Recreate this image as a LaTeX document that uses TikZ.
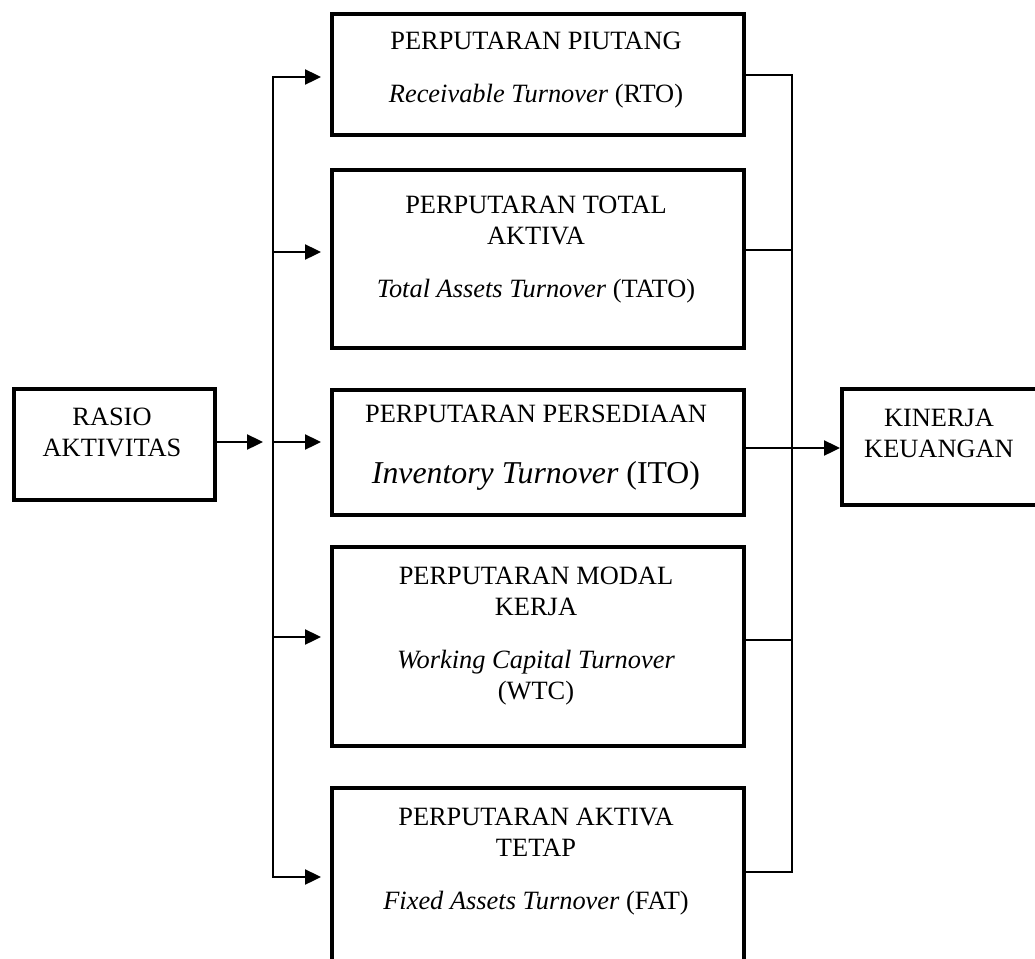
\documentclass[tikz,border=0pt]{standalone}
\usepackage{fontspec}
\setmainfont{Liberation Serif}
\usetikzlibrary{arrows.meta}

\tikzset{
  box/.style={draw, line width=2pt, inner sep=0pt, anchor=north west},
  txt/.style={anchor=north, align=center, inner sep=0pt, font=\fontsize{13.2}{15.5}\selectfont},
  conn/.style={line width=1.2pt},
  arr/.style={conn, -{Triangle[length=8pt,width=7.5pt]}},
}

\begin{document}
\begin{tikzpicture}[x=0.5pt, y=-0.5pt]
    \useasboundingbox (0,0) rectangle (1035,959);
    % boxes
    \node[box, minimum width=100.5pt, minimum height=55.5pt] (rasio) at (12,387) {};
    \node[box, minimum width=206pt, minimum height=60.5pt] (rto) at (330,12) {};
    \node[box, minimum width=206pt, minimum height=89pt] (tato) at (330,168) {};
    \node[box, minimum width=206pt, minimum height=62.5pt] (ito) at (330,388) {};
    \node[box, minimum width=206pt, minimum height=99.5pt] (wtc) at (330,545) {};
    \node[box, minimum width=206pt, minimum height=97pt] (fat) at (330,786) {};
    \node[box, minimum width=99pt, minimum height=58pt] (kinerja) at (840,387) {};
    % texts
    \node[txt] (rasio-txt) at (112,408) {RASIO\\AKTIVITAS};
    \node[txt] (rto-txt) at (536,32) {PERPUTARAN PIUTANG\\[11pt]\textit{Receivable Turnover} (RTO)};
    \node[txt] (tato-txt) at (536,196) {PERPUTARAN TOTAL\\AKTIVA\\[11pt]\textit{Total Assets Turnover} (TATO)};
    \node[txt] (ito-txt) at (536,405) {PERPUTARAN PERSEDIAAN\\[15pt]{\fontsize{15.9}{19}\selectfont\textit{Inventory Turnover} (ITO)}};
    \node[txt] (wtc-txt) at (536,567) {PERPUTARAN MODAL\\KERJA\\[11pt]\textit{Working Capital Turnover}\\(WTC)};
    \node[txt] (fat-txt) at (536,808) {PERPUTARAN AKTIVA\\TETAP\\[11pt]\textit{Fixed Assets Turnover} (FAT)};
    \node[txt] (kinerja-txt) at (939,409) {KINERJA\\KEUANGAN};
    % bus points
    \coordinate (lb1) at (273,77);
    \coordinate (lb2) at (273,252);
    \coordinate (lb3) at (273,442);
    \coordinate (lb4) at (273,637);
    \coordinate (lb5) at (273,877);
    \coordinate (rb1) at (792,75);
    \coordinate (rb2) at (792,250);
    \coordinate (rb3) at (792,448);
    \coordinate (rb4) at (792,640);
    \coordinate (rb5) at (792,872);
    % left side
    \draw[arr, shorten >=5pt] (rasio.east |- lb3) -- (lb3);
    \draw[arr, shorten >=4.5pt] (lb3) -- (lb1) -- (lb1 -| rto.west);
    \draw[arr, shorten >=4.5pt] (lb3) -- (lb5) -- (lb5 -| fat.west);
    \foreach \bx/\cy in {tato/lb2, ito/lb3, wtc/lb4}
      \draw[arr, shorten >=4.5pt] (\cy) -- (\cy -| \bx.west);
    % right side
    \draw[conn] (rto.east |- rb1) -- (rb1) -- (rb5) -- (fat.east |- rb5);
    \foreach \bx/\cy in {tato/rb2, wtc/rb4}
      \draw[conn] (\bx.east |- \cy) -- (\cy);
    \draw[arr] (ito.east |- rb3) -- (rb3 -| kinerja.west);
  \end{tikzpicture}
\end{document}
